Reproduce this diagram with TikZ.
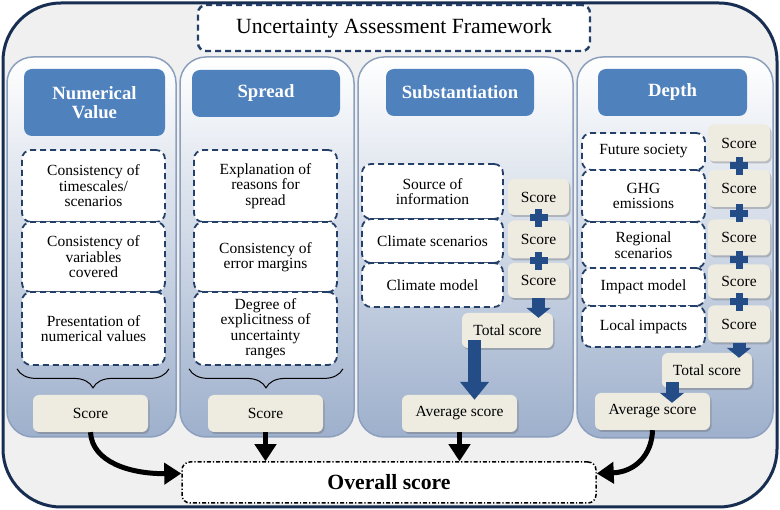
\documentclass[tikz,border=0pt]{standalone}
\usepackage{fontspec}
\setmainfont{Liberation Serif}
\usetikzlibrary{arrows.meta,positioning,calc,shadows,decorations.pathreplacing}
\definecolor{framenavy}{RGB}{23,45,82}
\definecolor{dashblue}{RGB}{37,64,104}
\definecolor{headblue}{RGB}{79,129,189}
\definecolor{colline}{RGB}{140,160,190}
\definecolor{colbottom}{RGB}{158,176,204}
\definecolor{scorefill}{RGB}{238,236,225}
\definecolor{arrowblue}{RGB}{36,76,134}

\newcommand{\bodyfont}{\fontsize{15.5}{15.5}\selectfont}

\tikzset{
  frmbox/.style={draw=framenavy, line width=3pt, fill=black!6, rounded corners=58pt, inner sep=0pt},
  titlebox/.style={draw=dashblue, line width=2.4pt, dash pattern=on 6pt off 4pt, fill=white, rounded corners=8pt, font=\fontsize{21.7}{22}\selectfont},
  colbox/.style={draw=colline, line width=1.5pt, rounded corners=26pt, top color=white, bottom color=colbottom, inner sep=0pt},
  headbox/.style={fill=headblue, rounded corners=8pt, text=white, align=center, font=\fontsize{18.7}{19.5}\selectfont\bfseries, inner sep=0pt},
  itembox/.style={draw=dashblue, line width=1.8pt, dash pattern=on 6pt off 4pt, fill=white, rounded corners=9pt, align=center, font=\bodyfont, inner sep=0pt},
  scorebox/.style={fill=scorefill, rounded corners=6pt, font=\bodyfont, inner sep=0pt,
    drop shadow={shadow xshift=1.5pt, shadow yshift=-2pt, opacity=0.35, fill=black!60}},
  overallbox/.style={draw=black, line width=1.5pt, dash pattern=on 4pt off 2pt on 1.2pt off 2pt, fill=white, rounded corners=8pt, font=\fontsize{21.7}{22}\selectfont\bfseries},
  blackarrow/.style={-{Triangle[length=17pt,width=21pt]}, line width=5pt, black},
  blueshort/.style={-{Triangle[length=10pt,width=24pt]}, line width=13pt, arrowblue},
  bluelong/.style={-{Triangle[length=18pt,width=28pt]}, line width=13pt, arrowblue},
  plus/.pic={
    \fill[arrowblue] (-9,-3.5) rectangle (9,3.5);
    \fill[arrowblue] (-3.5,-9) rectangle (3.5,9);
  }
}

\begin{document}
\begin{tikzpicture}[x=1pt,y=-1pt]
\useasboundingbox (0,0) rectangle (780,510);

\node[frmbox, minimum width=774, minimum height=504] (frm) at (390,255) {};
\node[titlebox, minimum width=392, minimum height=46] (title) at (394,28) {Uncertainty Assessment Framework};

% the four columns
\node[colbox, minimum width=169, minimum height=380] (colA) at (91.5,247) {};
\node[colbox, minimum width=174, minimum height=380] (colB) at (267,247) {};
\node[colbox, minimum width=215, minimum height=380] (colC) at (465.5,247) {};
\node[colbox, minimum width=196, minimum height=381] (colD) at (675,247.5) {};

\node[headbox, minimum width=141, minimum height=67] (hA) at (94.5,102.5) {Numerical\\Value};
\node[headbox, minimum width=148, minimum height=47] (hB) at (266,93.5) {Spread};
\node[headbox, minimum width=148, minimum height=47] (hC) at (460,92.5) {Substantiation};
\node[headbox, minimum width=149, minimum height=47] (hD) at (672.5,92.5) {Depth};

% numerical value
\node[itembox, minimum width=143, minimum height=72] (a1) at (93.5,186) {Consistency of\\timescales/\\scenarios};
\node[itembox, minimum width=143, minimum height=70] (a2) at (93.5,257) {Consistency of\\variables\\covered};
\node[itembox, minimum width=143, minimum height=73] (a3) at (93.5,328.5) {Presentation of\\numerical values};
\draw[decorate, decoration={brace, amplitude=19pt, mirror}, line width=1pt]
  ([xshift=-4pt,yshift=-3pt]a3.south west) -- ([xshift=3pt,yshift=-3pt]a3.south east);
\node[scorebox, minimum width=115, minimum height=37] (sA) at (90.5,413.5) {Score};

% spread
\node[itembox, minimum width=143, minimum height=72] (b1) at (265.5,186) {Explanation of\\reasons for\\spread};
\node[itembox, minimum width=143, minimum height=70] (b2) at (265.5,257) {Consistency of\\error margins};
\node[itembox, minimum width=143, minimum height=73] (b3) at (265.5,328.5) {Degree of\\explicitness of\\uncertainty\\ranges};
\draw[decorate, decoration={brace, amplitude=19pt, mirror}, line width=1pt]
  ([xshift=-4pt,yshift=-3pt]b3.south west) -- ([xshift=5pt,yshift=-3pt]b3.south east);
\node[scorebox, minimum width=115, minimum height=37] (sB) at (265.5,413.5) {Score};

% substantiation
\node[itembox, minimum width=141, minimum height=55] (c1) at (432.5,191.5) {Source of\\information};
\node[itembox, minimum width=141, minimum height=44] (c2) at (432.5,241) {Climate scenarios};
\node[itembox, minimum width=141, minimum height=44] (c3) at (432.5,285) {Climate model};
\node[scorebox, minimum width=61, minimum height=36] (c1s) at (538.5,197) {Score};
\node[scorebox, minimum width=61, minimum height=38] (c2s) at (538.5,239.5) {Score};
\node[scorebox, minimum width=61, minimum height=35] (c3s) at (538.5,280.5) {Score};
\pic at ($(c1s.south)!.5!(c2s.north)$) {plus};
\pic at ($(c2s.south)!.5!(c3s.north)$) {plus};
\node[scorebox, minimum width=91, minimum height=35] (tC) at (507.5,330.5) {Total score};
\node[scorebox, minimum width=115, minimum height=37] (aC) at (459.5,413.5) {Average score};
\draw[blueshort] (c3s.south) -- ([yshift=-5pt]c3s.south |- tC.north);
\draw[bluelong] ([xshift=-33pt,yshift=8pt]tC.south) -- ([xshift=-33pt,yshift=-5pt]tC.south |- aC.north);

% depth
\node[itembox, minimum width=123, minimum height=37] (d1) at (643.5,151.5) {Future society};
\node[itembox, minimum width=123, minimum height=52] (d2) at (643.5,196) {GHG\\emissions};
\node[itembox, minimum width=123, minimum height=46] (d3) at (643.5,245) {Regional\\scenarios};
\node[itembox, minimum width=123, minimum height=38] (d4) at (643.5,287) {Impact model};
\node[itembox, minimum width=123, minimum height=41] (d5) at (643.5,326.5) {Local impacts};
\node[scorebox, minimum width=62, minimum height=37] (d1s) at (739,143) {Score};
\node[scorebox, minimum width=62, minimum height=37] (d2s) at (739,188.5) {Score};
\node[scorebox, minimum width=62, minimum height=36] (d3s) at (739,237.5) {Score};
\node[scorebox, minimum width=62, minimum height=34] (d4s) at (739,281.5) {Score};
\node[scorebox, minimum width=62, minimum height=37] (d5s) at (739,324) {Score};
\foreach \u/\v in {d1s/d2s,d2s/d3s,d3s/d4s,d4s/d5s}
  \pic at ($(\u.south)!.5!(\v.north)$) {plus};
\node[scorebox, minimum width=90, minimum height=35] (tD) at (707,370.5) {Total score};
\node[scorebox, minimum width=115, minimum height=37] (aD) at (652.5,411.5) {Average score};
\draw[blueshort] (d5s.south) -- ([yshift=-5pt]d5s.south |- tD.north);
\draw[blueshort] ([xshift=-35pt,yshift=6pt]tD.south) -- ([xshift=-35pt,yshift=-10pt]tD.south |- aD.north);

% overall
\node[overallbox, minimum width=414, minimum height=41] (ov) at (389,482.5) {Overall score};
\draw[blackarrow] (sA.south) .. controls (92,462) and (130,474) .. ([yshift=9pt]ov.west);
\draw[blackarrow] (sB.south) -- (sB.south |- ov.north);
\draw[blackarrow] (aC.south) -- (aC.south |- ov.north);
\draw[blackarrow] (aD.south) .. controls (652,455) and (635,472) .. ([yshift=9pt]ov.east);
\end{tikzpicture}
\end{document}
